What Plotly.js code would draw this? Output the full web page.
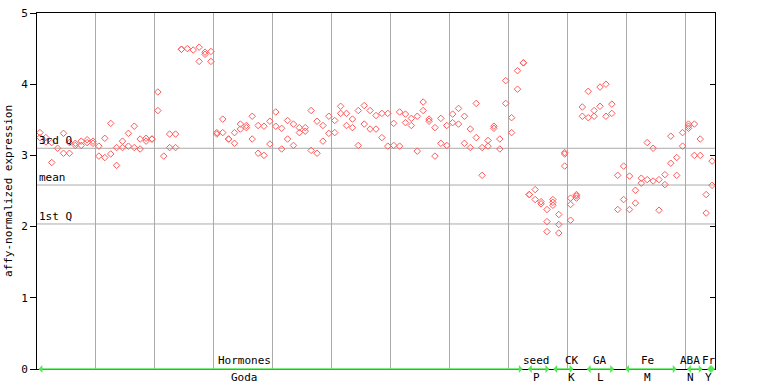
<!DOCTYPE html>
<html>
<head>
<meta charset="utf-8">
<script src="https://cdn.plot.ly/plotly-3.0.1.min.js"></script>
<style>html,body{margin:0;padding:0;background:#fff;}#chart{width:768px;height:384px;}</style>
</head>
<body>
<div id="chart"></div>
<script>
// expression values per sample column (index 0..114)
const expression = [
  [3.32,3.25],[3.25,3.19],[3.18,2.90],[3.10],[3.31,3.03],[3.18,3.03],[3.17,3.14],[3.20,3.14],[3.22,3.18],[3.20,3.17],
  [3.13,2.99],[3.24,2.97],[3.45,3.02],[3.11,2.86],[3.20,3.11],[3.31,3.13],[3.41,3.11],[3.23,3.09],[3.24,3.20],[3.23,3.23],
  [3.89,3.63],[2.99],[3.30,3.11],[3.30,3.11],[4.49,4.49],[4.50],[4.48],[4.52,4.32],[4.45,4.42],[4.46,4.32],
  [3.32,3.30],[3.51,3.32],[3.23,3.23],[3.32,3.17],[3.44,3.37],[3.42,3.39],[3.55,3.23],[3.42,3.03],[3.41,3.00],[3.48,3.16],
  [3.61,3.41],[3.38,3.09],[3.49,3.23],[3.44,3.14],[3.39,3.32],[3.39,3.34],[3.63,3.07],[3.48,3.03],[3.42,3.20],[3.55,3.31],
  [3.49,3.32],[3.69,3.59],[3.59,3.42],[3.51,3.39],[3.63,3.14],[3.70,3.44],[3.63,3.37],[3.56,3.37],[3.59,3.25],[3.59,3.13],
  [3.45,3.14],[3.61,3.13],[3.58,3.46],[3.52,3.42],[3.55,3.06],[3.75,3.63],[3.51,3.48],[3.39,2.99],[3.52,3.17],[3.42,3.14],
  [3.58,3.46],[3.66,3.44],[3.55,3.17],[3.37,3.11],[3.73,3.25],[3.11,2.72],[3.21,3.13],[3.41,3.38],[3.23,3.09],[4.05,3.73],
  [3.53,3.32],[4.19,3.93],[4.30,4.30],[2.45,2.45],[2.52,2.38],[2.35,2.32],[2.24,2.07,1.93],[2.38,2.34,2.30],[2.17,2.03,1.91],[3.04,3.02,2.85],
  [2.40,2.31,2.09],[2.45,2.43,2.40],[3.68,3.55],[3.90,3.53],[3.63,3.55],[3.96,3.69],[4.00,3.55],[3.72,3.59],[2.72,2.24],[2.85,2.38],
  [2.71,2.24],[2.51,2.33],[2.68,2.61],[3.18,2.66],[3.10,2.64],[2.66,2.23],[2.73,2.59],[3.27,2.89],[2.97,2.72],[3.32,3.13],
  [3.44,3.41,3.38],[3.44,3.00],[3.23,3.00],[2.45,2.19],[2.92,2.58]
];
// reference statistics lines
const refValues = [3.10, 2.584, 2.037];
const refLabels = ['3rd Q', 'mean', '1st Q'];
// bottom groups
const groupNames = ['Hormones','seed','CK','GA','Fe','ABA','Fr'];
const groupCodes = ['Goda','P','K','L','M','N','Y'];
const groupStart = [0, 83, 87.3, 93, 99.5, 110, 113.4];
const groupEnd   = [82.4, 86.9, 91, 97.9, 108.5, 112.9, 115];
const labelCenter = [35.2, 84.8, 90.7, 95.5, 103.5, 110.8, 113.9];

const xs = [], ys = [];
expression.forEach((vals, i) => vals.forEach(v => { xs.push(i + 0.5); ys.push(v); }));

const mono = 'DejaVu Sans Mono, monospace';
const green = '#55e855';

const traces = [
  {x: xs, y: ys, type: 'scatter', mode: 'markers', hoverinfo: 'skip',
   marker: {symbol: 'diamond-open', size: 5, color: '#ff5a5a', line: {width: 1, color: '#ff5a5a'}}},
  {x: [0], y: [0], yaxis: 'y2', type: 'scatter', mode: 'markers', marker: {opacity: 0}, hoverinfo: 'skip'}
];

const shapes = refValues.map(v => ({type: 'line', xref: 'paper', x0: 0, x1: 1, yref: 'y', y0: v, y1: v,
  line: {color: '#aaaaaa', width: 1}, layer: 'below'}));

const annotations = [];
refValues.forEach((v, i) => annotations.push({xref: 'paper', x: 0, xanchor: 'left', yref: 'y', y: v, yanchor: 'bottom',
  yshift: -1, text: refLabels[i], showarrow: false, font: {family: mono, size: 11, color: '#000'}}));
groupNames.forEach((g, i) => {
  annotations.push({x: groupEnd[i], y: 0, ax: groupStart[i], ay: 0, xref: 'x', yref: 'y', axref: 'x', ayref: 'y',
    text: '', showarrow: true, arrowside: 'end+start', arrowhead: 1, arrowsize: 1, arrowwidth: 1.3, arrowcolor: green});
  annotations.push({x: labelCenter[i], y: 0, xref: 'x', yref: 'y', yanchor: 'bottom', yshift: 0, text: g, showarrow: false,
    font: {family: mono, size: 11, color: '#000'}});
  annotations.push({x: labelCenter[i], y: 0, xref: 'x', yref: 'y', yanchor: 'top', yshift: 0, text: groupCodes[i], showarrow: false,
    font: {family: mono, size: 11, color: '#000'}});
});

const layout = {
  width: 768, height: 384,
  margin: {l: 37, r: 53, t: 13, b: 15, pad: 0},
  paper_bgcolor: '#fff', plot_bgcolor: '#fff',
  showlegend: false,
  xaxis: {range: [0, 115], dtick: 10, tick0: 0, showgrid: true, gridcolor: '#aaaaaa', gridwidth: 1,
    showticklabels: false, ticks: '', zeroline: false, showline: true, linecolor: '#000', linewidth: 1, mirror: true},
  yaxis: {range: [0, 5], dtick: 1, showgrid: false, zeroline: false, showline: true, linecolor: '#000', linewidth: 1,
    ticks: 'outside', ticklen: 6, tickcolor: '#000', tickfont: {family: mono, size: 11, color: '#000'},
    title: {text: 'affy-normalized expression', font: {family: mono, size: 11, color: '#000'}, standoff: 6}},
  yaxis2: {range: [0, 5], dtick: 1, overlaying: 'y', side: 'right', showgrid: false, zeroline: false, showline: true,
    linecolor: '#000', linewidth: 1, ticks: 'inside', ticklen: 5, tickcolor: '#000', showticklabels: false},
  shapes: shapes,
  annotations: annotations
};

Plotly.newPlot('chart', traces, layout, {displayModeBar: false, staticPlot: true});
</script>
</body>
</html>
